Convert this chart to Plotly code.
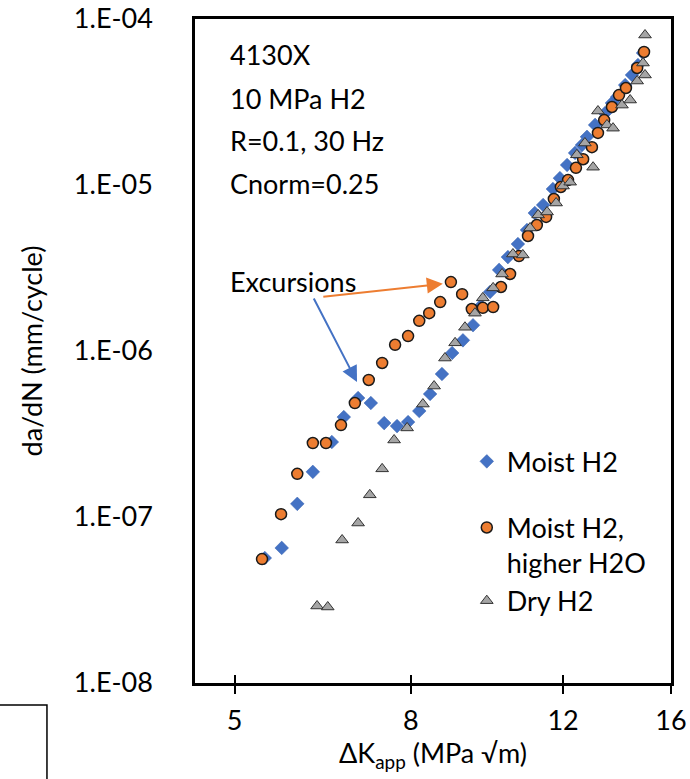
import math
import plotly.graph_objects as go

# ---------------- data ----------------
moist_x = [5.42, 5.67, 5.91, 6.16, 6.48, 6.69, 6.95, 7.19, 7.45, 7.71, 7.94, 8.18, 8.42,
           8.69, 8.93, 9.19, 9.44, 9.64, 9.88, 10.12, 10.36, 10.64, 10.90, 11.13, 11.38,
           11.68, 11.90, 12.13, 12.39, 12.62, 12.79, 13.07, 13.42, 13.67, 13.86, 14.16,
           14.42, 14.65, 14.85]
moist_y = [5.66e-8, 6.51e-8, 1.20e-7, 1.87e-7, 2.83e-7, 4.00e-7, 5.21e-7, 4.86e-7, 3.68e-7,
           3.53e-7, 3.73e-7, 4.35e-7, 5.51e-7, 7.27e-7, 9.73e-7, 1.16e-6, 1.43e-6, 1.87e-6,
           2.27e-6, 3.08e-6, 3.68e-6, 4.41e-6, 5.36e-6, 6.78e-6, 7.58e-6, 9.46e-6, 1.10e-5,
           1.32e-5, 1.56e-5, 1.74e-5, 1.95e-5, 2.30e-5, 2.71e-5, 3.12e-5, 3.39e-5, 4.00e-5,
           4.60e-5, 5.28e-5, 6.24e-5]

higher_x = [5.38, 5.66, 5.91, 6.16, 6.38, 6.64, 6.89, 7.15, 7.41, 7.67, 7.94, 8.18, 8.40,
            8.65, 8.90, 9.17, 9.41, 9.69, 9.96, 10.17, 10.42, 10.67, 10.93, 11.19, 11.47,
            11.71, 11.93, 12.16, 12.42, 12.66, 12.96, 13.17, 13.39, 13.67, 13.93, 14.19,
            14.62, 14.89]
higher_y = [5.58e-8, 1.04e-7, 1.82e-7, 2.79e-7, 2.79e-7, 3.58e-7, 4.86e-7, 6.69e-7, 8.47e-7,
            1.09e-6, 1.23e-6, 1.52e-6, 1.69e-6, 1.97e-6, 2.60e-6, 2.20e-6, 1.79e-6, 1.82e-6,
            1.84e-6, 2.43e-6, 2.91e-6, 3.73e-6, 4.93e-6, 5.74e-6, 6.42e-6, 8.23e-6, 9.73e-6,
            1.07e-5, 1.27e-5, 1.43e-5, 1.69e-5, 2.06e-5, 2.46e-5, 2.95e-5, 3.48e-5, 3.84e-5,
            5.07e-5, 6.33e-5]

dry_x = [6.23, 6.41, 6.66, 6.95, 7.17, 7.41, 7.65, 7.92, 8.26, 8.51, 8.76, 9.00, 9.24,
         9.49, 9.69, 9.96, 10.20, 10.50, 10.78, 10.99, 11.23, 11.50, 11.78, 12.00, 12.23,
         12.45, 12.72, 13.00, 13.17, 13.49, 13.71, 14.04, 14.35, 14.62, 14.93, 14.85, 14.93]
dry_y = [2.91e-8, 2.87e-8, 7.27e-8, 9.20e-8, 1.36e-7, 1.95e-7, 2.91e-7, 3.44e-7, 4.79e-7,
         6.15e-7, 9.07e-7, 1.12e-6, 1.39e-6, 1.69e-6, 2.09e-6, 2.40e-6, 2.91e-6, 3.84e-6,
         3.79e-6, 5.51e-6, 6.60e-6, 6.88e-6, 7.79e-6, 9.86e-6, 1.04e-5, 1.52e-5, 1.79e-5,
         1.28e-5, 2.79e-5, 2.30e-5, 2.20e-5, 3.03e-5, 3.25e-5, 4.23e-5, 4.60e-5, 5.43e-5,
         8.01e-5]

x_ticks = [5, 8, 12, 16]
x_range = [4.5, 16]
y_ticks = [1e-8, 1e-7, 1e-6, 1e-5, 1e-4]
y_ticktext = ["1.E-08", "1.E-07", "1.E-06", "1.E-05", "1.E-04"]
info_lines = ["4130X", "10 MPa H2", "R=0.1, 30 Hz", "Cnorm=0.25"]

# arrow tips (data values) of the "Excursions" call-outs
orange_tip = (8.71, 2.54e-6)
blue_tip = (6.93, 6.50e-7)

FONT = "Lato"
FS = 27
BLUE = "#4472C4"
ORANGE = "#ED7D31"
GRAY = "#A5A5A5"

fig = go.Figure()
fig.add_trace(go.Scatter(
    x=moist_x, y=moist_y, mode="markers", name="Moist H2",
    legendgroup="a",
    marker=dict(symbol="diamond", size=10.5, color=BLUE, line=dict(width=0.5, color="#3A64B0")),
))
fig.add_trace(go.Scatter(
    x=higher_x, y=higher_y, mode="markers", name="Moist H2,<br>higher H2O",
    legendgroup="b",
    marker=dict(symbol="circle", size=11, color=ORANGE, line=dict(width=1.5, color="#1a1a1a")),
))
fig.add_trace(go.Scatter(
    x=dry_x, y=dry_y, mode="markers", name="Dry H2",
    legendgroup="b",
    marker=dict(symbol="triangle-up", size=11, color=GRAY, line=dict(width=1, color="#333333")),
))
# empty trace to create an overlaid axis for inward tick marks (cross ticks)
fig.add_trace(go.Scatter(x=[], y=[], xaxis="x2", yaxis="y", showlegend=False, hoverinfo="skip"))

annotations = []
line_y = [0.9465, 0.8805, 0.8163, 0.7530]
for txt, yy in zip(info_lines, line_y):
    annotations.append(dict(text=txt, xref="paper", yref="paper", x=0.069, y=yy,
                            xanchor="left", yanchor="middle", showarrow=False,
                            font=dict(family=FONT, size=FS, color="black")))
annotations.append(dict(text="Excursions", xref="paper", yref="paper", x=0.069, y=0.604,
                        xanchor="left", yanchor="middle", showarrow=False,
                        font=dict(family=FONT, size=FS, color="black")))
annotations.append(dict(text="", x=math.log10(orange_tip[0]), y=math.log10(orange_tip[1]),
                        xref="x", yref="y", showarrow=True, ax=-121, ay=13,
                        arrowhead=2, arrowsize=1.6, arrowwidth=2, arrowcolor=ORANGE))
annotations.append(dict(text="", x=math.log10(blue_tip[0]), y=math.log10(blue_tip[1]),
                        xref="x", yref="y", showarrow=True, ax=-44, ay=-85,
                        arrowhead=2, arrowsize=1.6, arrowwidth=2, arrowcolor=BLUE))

fig.update_layout(
    width=690, height=779,
    margin=dict(l=195, r=19, t=19, b=96, autoexpand=False),
    paper_bgcolor="white", plot_bgcolor="white",
    font=dict(family=FONT, size=FS, color="black"),
    showlegend=True,
    legend=dict(x=0.571, y=0.37, xanchor="left", yanchor="top",
                bgcolor="rgba(0,0,0,0)", traceorder="grouped", tracegroupgap=28,
                valign="top", font=dict(family=FONT, size=FS, color="black")),
    xaxis=dict(type="log", range=[math.log10(x_range[0]), math.log10(x_range[1])],
               tickvals=x_ticks, ticktext=[str(t) for t in x_ticks],
               ticks="outside", ticklen=8, tickwidth=2, tickcolor="black",
               showline=True, linewidth=2.5, linecolor="black", mirror=True,
               showgrid=False, zeroline=False, ticklabelstandoff=4, automargin=False,
               title=dict(text="ΔK<sub>app</sub> (MPa √m)", standoff=2,
                          font=dict(family=FONT, size=FS))),
    xaxis2=dict(type="log", overlaying="x", matches="x", anchor="y", side="bottom",
                tickvals=x_ticks, ticks="inside", ticklen=8, tickwidth=2, tickcolor="black",
                showticklabels=False, showline=False, showgrid=False, zeroline=False,
                automargin=False),
    yaxis=dict(type="log", range=[-8, -4], tickvals=y_ticks, ticktext=y_ticktext,
               ticks="", showline=True, linewidth=2.5, linecolor="black", mirror=True,
               showgrid=False, zeroline=False, ticklabelstandoff=34, automargin=False,
               title=dict(text="da/dN (mm/cycle)", standoff=24,
                          font=dict(family=FONT, size=FS))),
    annotations=annotations,
    shapes=[dict(type="rect", xref="paper", yref="paper", x0=-0.45, x1=-0.311,
                 y0=-0.2, y1=-0.0331, line=dict(color="black", width=1.5))],
)

# remove the browser's default 8px body margin so the figure sits at the page origin
fig.write_html("out.html", config={"displayModeBar": False},
               post_script="document.body.style.margin='0';")
